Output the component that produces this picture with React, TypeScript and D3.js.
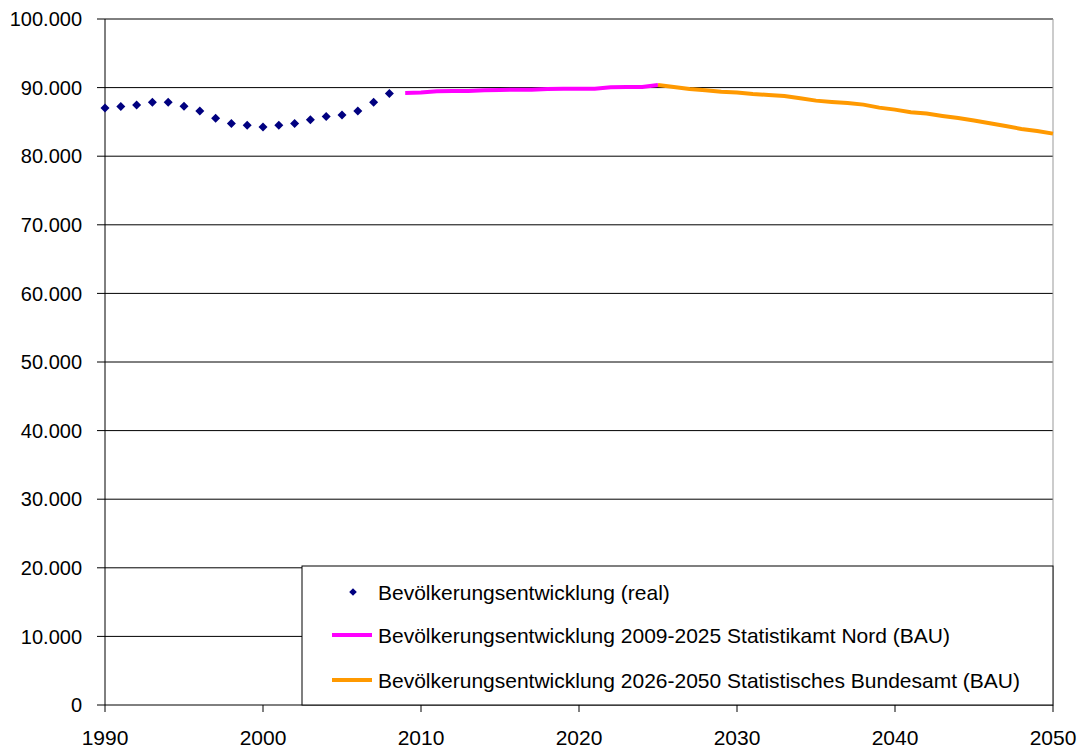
import React from "react";
import * as d3 from "d3";

const realYears = [1990,1991,1992,1993,1994,1995,1996,1997,1998,1999,2000,2001,2002,2003,2004,2005,2006,2007,2008];
const realValues = [87030,87260,87460,87850,87850,87270,86590,85520,84750,84500,84260,84500,84750,85330,85770,86010,86590,87850,89130];

const nordYears = [2009,2010,2011,2012,2013,2014,2015,2016,2017,2018,2019,2020,2021,2022,2023,2024,2025];
const nordValues = [89220,89270,89460,89510,89510,89610,89650,89700,89700,89800,89850,89850,89850,90040,90090,90090,90380];

const bundYears = [2025,2026,2027,2028,2029,2030,2031,2032,2033,2034,2035,2036,2037,2038,2039,2040,2041,2042,2043,2044,2045,2046,2047,2048,2049,2050];
const bundValues = [90380,90090,89800,89610,89410,89270,89070,88930,88780,88440,88100,87910,87760,87520,87080,86790,86400,86210,85870,85570,85190,84800,84410,83970,83680,83290];

const xTicks = [1990,2000,2010,2020,2030,2040,2050];
const yTicks = [0,10000,20000,30000,40000,50000,60000,70000,80000,90000,100000];
const legendLabels = [
  "Bevölkerungsentwicklung (real)",
  "Bevölkerungsentwicklung 2009-2025 Statistikamt Nord (BAU)",
  "Bevölkerungsentwicklung 2026-2050 Statistisches Bundesamt (BAU)",
];

const W = 1083, H = 751;
const L = 105, R = 1053, T = 19, B = 705;

export default function App() {
  const x = d3.scaleLinear().domain([1990, 2050]).range([L, R]);
  const y = d3.scaleLinear().domain([0, 100000]).range([B, T]);
  const fmt = (v: number) => (v === 0 ? "0" : d3.format(",")(v).replace(/,/g, "."));
  const line = d3.line<[number, number]>().x(d => x(d[0])).y(d => y(d[1]));
  const nord = line(nordYears.map((yr, i) => [yr, nordValues[i]]));
  const bund = line(bundYears.map((yr, i) => [yr, bundValues[i]]));
  const diamond = (cx: number, cy: number, r: number) =>
    `M${cx},${cy - r}L${cx + r},${cy}L${cx},${cy + r}L${cx - r},${cy}Z`;
  const font = "'Liberation Sans', Arial, sans-serif";
  const lgX = 302, lgY = 566;
  const rows = [592, 635, 680];
  return (
    <svg width={W} height={H} style={{ position: "absolute", left: 0, top: 0, background: "#fff" }} fontFamily={font}>
      <rect x={0} y={0} width={W} height={H} fill="#fff" />
      {yTicks.filter(t => t > 0).map(t => (
        <line key={t} x1={L} x2={R} y1={y(t)} y2={y(t)} stroke="#000" strokeWidth={1} />
      ))}
      <line x1={R} x2={R} y1={T} y2={B} stroke="#999" strokeWidth={1} />
      {yTicks.map(t => (
        <g key={"yt" + t}>
          <line x1={L - 8} x2={L} y1={y(t)} y2={y(t)} stroke="#000" />
          <text x={82} y={y(t)} dy="0.36em" textAnchor="end" fontSize={20} fill="#000">{fmt(t)}</text>
        </g>
      ))}
      {xTicks.map(t => (
        <g key={"xt" + t}>
          <line x1={x(t)} x2={x(t)} y1={B} y2={B + 7} stroke="#000" />
          <text x={x(t)} y={745} textAnchor="middle" fontSize={21} fill="#000">{t}</text>
        </g>
      ))}
      <line x1={L} x2={L} y1={T} y2={B} stroke="#000" />
      <line x1={L} x2={R} y1={B} y2={B} stroke="#000" />
      {realYears.map((yr, i) => (
        <path key={yr} d={diamond(x(yr), y(realValues[i]), 4.5)} fill="#000080" />
      ))}
      <path d={nord || ""} fill="none" stroke="#ff00ff" strokeWidth={4} />
      <path d={bund || ""} fill="none" stroke="#ff9900" strokeWidth={4} />
      <rect x={lgX} y={lgY} width={R - lgX} height={B - lgY} fill="#fff" stroke="#000" strokeWidth={1} />
      <path d={diamond(353, rows[0], 3.8)} fill="#000080" />
      <line x1={332} x2={372} y1={rows[1]} y2={rows[1]} stroke="#ff00ff" strokeWidth={4} />
      <line x1={332} x2={372} y1={rows[2]} y2={rows[2]} stroke="#ff9900" strokeWidth={4} />
      {legendLabels.map((s, i) => (
        <text key={s} x={378} y={rows[i]} dy="0.36em" fontSize={21} fill="#000">{s}</text>
      ))}
    </svg>
  );
}
